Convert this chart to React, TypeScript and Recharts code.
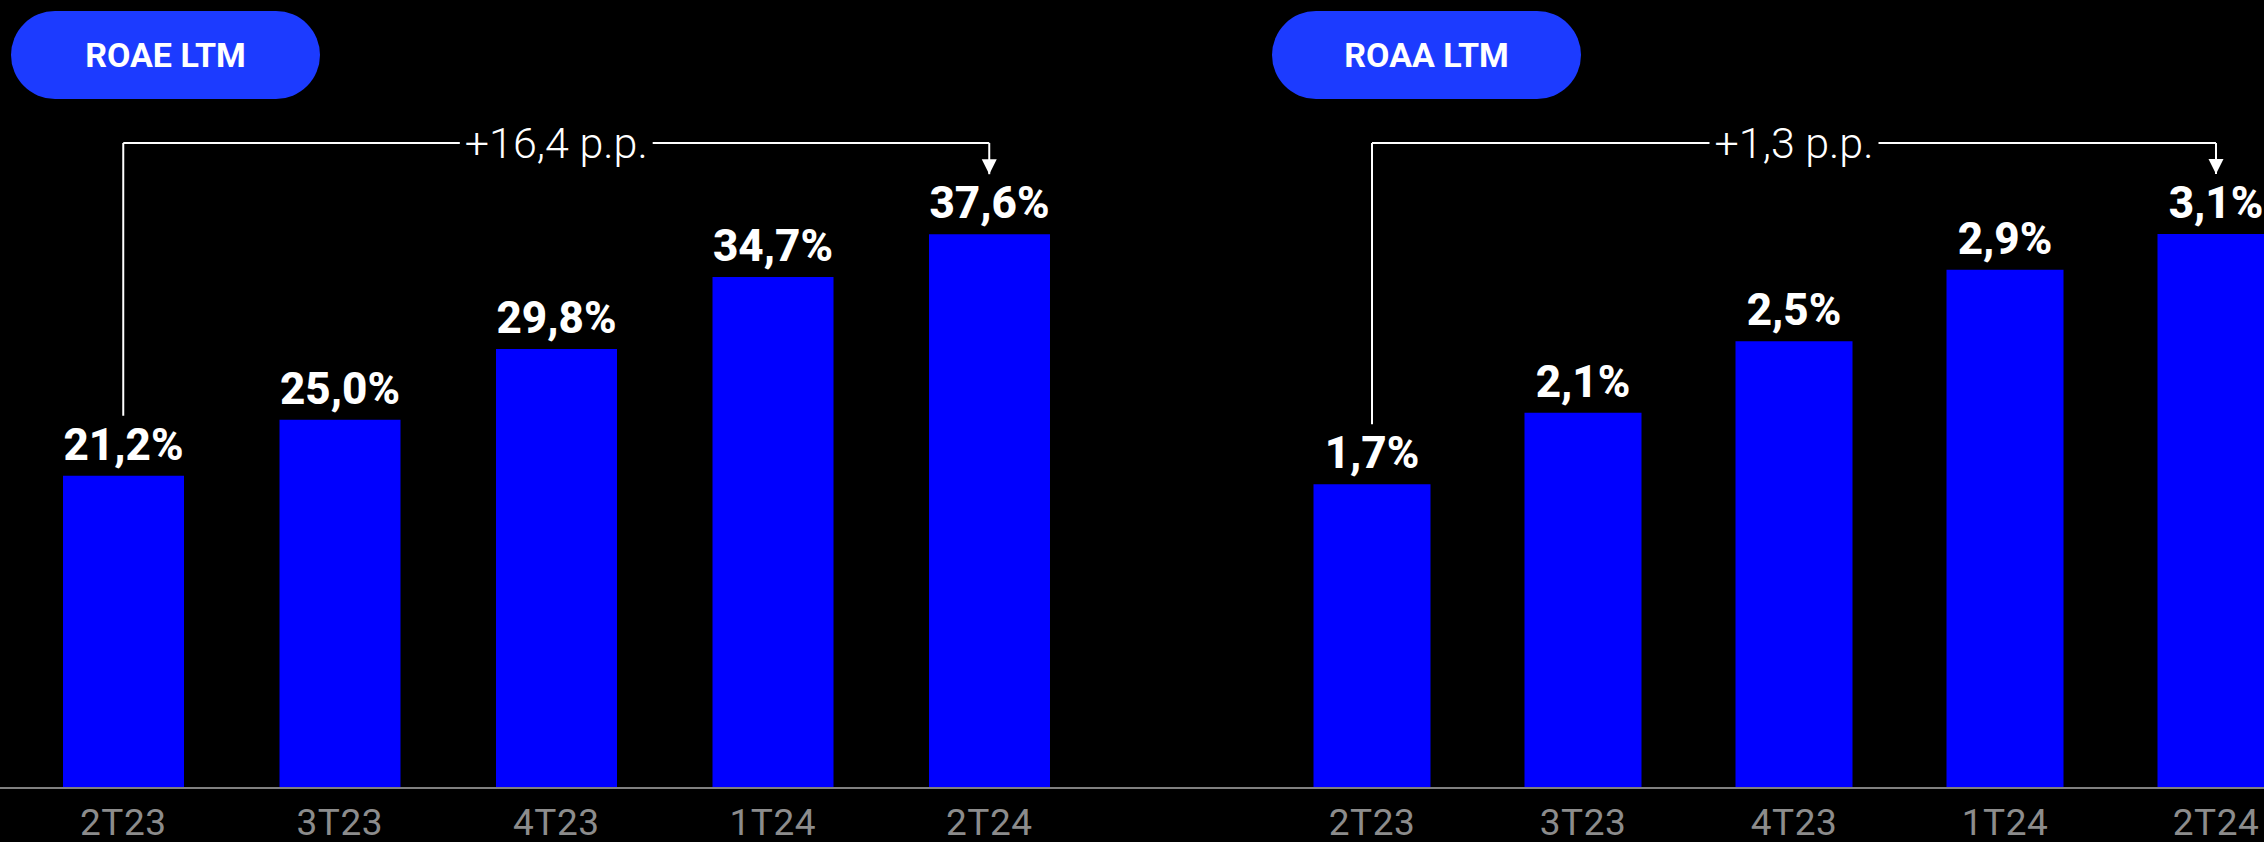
import {
  BarChart,
  Bar,
  XAxis,
  YAxis,
  LabelList,
  ReferenceLine,
  ReferenceDot,
} from "recharts";

const categories = ["2T23", "3T23", "4T23", "1T24", "2T24"];
const roaeValues = [21.2, 25.0, 29.8, 34.7, 37.6];
const roaaValues = [1.7, 2.1, 2.5, 2.9, 3.1];
const roaeChange = "+16,4 p.p.";
const roaaChange = "+1,3 p.p.";

const BAR_COLOR = "#0000FF";
const PILL_COLOR = "#1C3BFF";
const AXIS_COLOR = "#808080";
const TICK_COLOR = "#8C8C8C";
const FONT = "Roboto, 'Noto Sans', sans-serif";

const CHART_H = 842;
const AXIS_H = 54;
const PLOT_H = CHART_H - AXIS_H;
// bracket geometry in pixels from the top of the plot
const BRACKET_TOP_PX = 143;
const GAP_PX = 60;
const CHANGE_FONT_SIZE = 43;

const fmt = (v: number) => v.toFixed(1).replace(".", ",") + "%";

const measureText = (text: string, font: string) => {
  const ctx = document.createElement("canvas").getContext("2d");
  if (!ctx) return text.length * 18;
  ctx.font = font;
  return ctx.measureText(text).width;
};

const renderValueLabel = (props: any) => {
  const { x, y, width, value } = props;
  return (
    <text
      x={Number(x) + Number(width) / 2}
      y={Number(y) - 16}
      textAnchor="middle"
      fill="#fff"
      fontFamily={FONT}
      fontWeight={800}
      fontSize={44}
    >
      {fmt(Number(value))}
    </text>
  );
};

const renderTick = (props: any) => {
  const { x, y, payload } = props;
  return (
    <text
      x={x}
      y={y}
      dy={23}
      textAnchor="middle"
      fill={TICK_COLOR}
      fontFamily={FONT}
      fontSize={37}
      letterSpacing={0.5}
    >
      {payload.value}
    </text>
  );
};

interface PanelProps {
  title: string;
  values: number[];
  change: string;
  left: number;
  width: number;
  padLeft: number;
  padRight: number;
  barSize: number;
  yMax: number;
  pillLeft: number;
}

const Panel = ({ title, values, change, left, width, padLeft, padRight, barSize, yMax, pillLeft }: PanelProps) => {
  const data = categories.map((c, i) => ({ name: c, value: values[i] }));
  const pxToUnits = (px: number) => (px / PLOT_H) * yMax;
  const bracketY = yMax - pxToUnits(BRACKET_TOP_PX);
  const first = categories[0];
  const last = categories[categories.length - 1];
  const mid = categories[Math.floor(categories.length / 2)];
  const firstEnd = values[0] + pxToUnits(GAP_PX);
  const lastEnd = values[values.length - 1] + pxToUnits(GAP_PX);
  const changeW = measureText(change, `300 ${CHANGE_FONT_SIZE}px Roboto`);

  return (
    <>
      <div
        style={{
          position: "absolute",
          left: pillLeft,
          top: 11,
          width: 309,
          height: 88,
          borderRadius: 44,
          background: PILL_COLOR,
          color: "#fff",
          fontFamily: FONT,
          fontWeight: 700,
          fontSize: 34,
          display: "flex",
          alignItems: "center",
          justifyContent: "center",
        }}
      >
        {title}
      </div>
      <div style={{ position: "absolute", left, top: 0 }}>
        <BarChart
          width={width}
          height={CHART_H}
          data={data}
          margin={{ top: 0, right: 0, bottom: 0, left: 0 }}
        >
          <XAxis
            dataKey="name"
            height={AXIS_H}
            padding={{ left: padLeft, right: padRight }}
            axisLine={{ stroke: AXIS_COLOR, strokeWidth: 2 }}
            tickLine={false}
            tickSize={0}
            tickMargin={24}
            tick={renderTick}
            interval={0}
          />
          <YAxis hide domain={[0, yMax]} />
          <Bar dataKey="value" fill={BAR_COLOR} barSize={barSize} isAnimationActive={false}>
            <LabelList dataKey="value" content={renderValueLabel} />
          </Bar>
          {/* bracket: horizontal bar, left leg, right leg with arrow */}
          <ReferenceLine
            segment={[{ x: first, y: bracketY }, { x: last, y: bracketY }]}
            stroke="#fff"
            strokeWidth={2}
            ifOverflow="visible"
          />
          <ReferenceLine
            segment={[{ x: first, y: bracketY }, { x: first, y: firstEnd }]}
            stroke="#fff"
            strokeWidth={2}
            ifOverflow="visible"
          />
          <ReferenceLine
            segment={[{ x: last, y: bracketY }, { x: last, y: lastEnd }]}
            stroke="#fff"
            strokeWidth={2}
            ifOverflow="visible"
          />
          <ReferenceDot
            x={last}
            y={lastEnd}
            r={1}
            ifOverflow="visible"
            shape={(p: any) => (
              <polygon
                points={`${p.cx - 7.5},${p.cy - 15} ${p.cx + 7.5},${p.cy - 15} ${p.cx},${p.cy}`}
                fill="#fff"
              />
            )}
          />
          <ReferenceDot
            x={mid}
            y={bracketY}
            r={1}
            ifOverflow="visible"
            shape={(p: any) => (
              <g>
                <rect
                  x={p.cx - changeW / 2 - 5}
                  y={p.cy - 22}
                  width={changeW + 10}
                  height={44}
                  fill="#000"
                />
                <text
                  x={p.cx}
                  y={p.cy}
                  dy={15}
                  textAnchor="middle"
                  fill="#fff"
                  fontFamily={FONT}
                  fontWeight={300}
                  fontSize={CHANGE_FONT_SIZE}
                >
                  {change}
                </text>
              </g>
            )}
          />
        </BarChart>
      </div>
    </>
  );
}

export default function App() {
  return (
    <div
      style={{
        position: "fixed",
        left: 0,
        top: 0,
        width: 2264,
        height: 842,
        background: "#000",
        overflow: "hidden",
      }}
    >
      <Panel
        title="ROAE LTM"
        values={roaeValues}
        change={roaeChange}
        left={0}
        width={1180}
        padLeft={15}
        padRight={82.5}
        barSize={121}
        yMax={53.5}
        pillLeft={11}
      />
      <Panel
        title="ROAA LTM"
        values={roaaValues}
        change={roaaChange}
        left={1180}
        width={1180}
        padLeft={86.5}
        padRight={38.5}
        barSize={117}
        yMax={4.41}
        pillLeft={1272}
      />
    </div>
  );
}
